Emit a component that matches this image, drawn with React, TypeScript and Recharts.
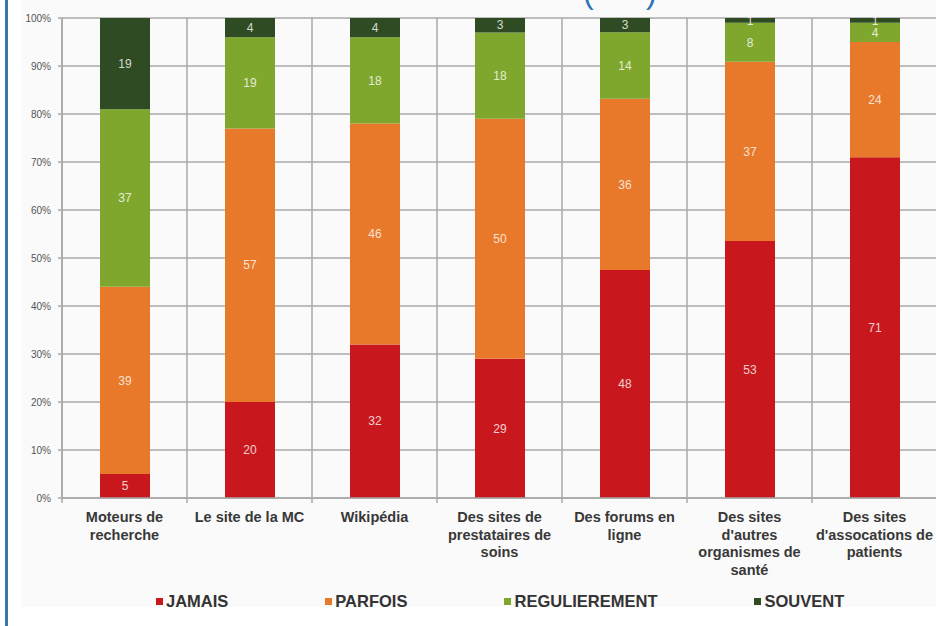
import { BarChart, Bar, XAxis, YAxis, CartesianGrid, LabelList } from "recharts"

// categories (line breaks as in the source picture)
const categories = [
  "Moteurs de\nrecherche",
  "Le site de la MC",
  "Wikipédia",
  "Des sites de\nprestataires de\nsoins",
  "Des forums en\nligne",
  "Des sites\nd'autres\norganismes de\nsanté",
  "Des sites\nd'assocations de\npatients",
]

const jamais = [5, 20, 32, 29, 48, 53, 71]
const parfois = [39, 57, 46, 50, 36, 37, 24]
const regulierement = [37, 19, 18, 18, 14, 8, 4]
const souvent = [19, 4, 4, 3, 3, 1, 1]

const yTicks = [0, 0.1, 0.2, 0.3, 0.4, 0.5, 0.6, 0.7, 0.8, 0.9, 1]

const seriesKeys = ["jamais", "parfois", "regulierement", "souvent"]
const seriesNames = ["JAMAIS", "PARFOIS", "REGULIEREMENT", "SOUVENT"]
const seriesColors = ["#c8181d", "#e8792a", "#7fa72e", "#2e4b23"]

const data = categories.map((name, i) => ({
  name,
  jamais: jamais[i],
  parfois: parfois[i],
  regulierement: regulierement[i],
  souvent: souvent[i],
}))

const CHART_W = 940
const CHART_H = 626
const MARGIN = { top: 18, right: 3, left: 0, bottom: 0 }
const Y_AXIS_W = 62
const BAND = (CHART_W - MARGIN.left - MARGIN.right - Y_AXIS_W) / categories.length
const GRID = "#a9a9a9"
const FONT = "'Liberation Sans', Arial, sans-serif"

function CategoryTick(props: any) {
  const { x, y, payload } = props
  const lines = String(payload.value).split("\n")
  const left = x - BAND / 2
  return (
    <g>
      <line x1={left} x2={left} y1={y} y2={y + 5} stroke={GRID} strokeWidth={1.5} />
      <text
        x={x}
        y={y + 24}
        textAnchor="middle"
        fontFamily={FONT}
        fontWeight="bold"
        fontSize={14.5}
        fill="#383838"
      >
        {lines.map((l, i) => (
          <tspan key={i} x={x} dy={i === 0 ? 0 : 17.7}>
            {l}
          </tspan>
        ))}
      </text>
    </g>
  )
}

function ChartLegend() {
  return (
    <div
      style={{
        position: "absolute",
        left: 156 - 22,
        top: 593,
        display: "flex",
        gap: 97,
        fontFamily: FONT,
        fontWeight: "bold",
        fontSize: 16.5,
        lineHeight: "16.5px",
        color: "#333",
        whiteSpace: "nowrap",
      }}
    >
      {seriesNames.map((n, i) => (
        <div key={n} style={{ display: "flex", alignItems: "flex-start" }}>
          <span
            style={{
              display: "inline-block",
              width: 7,
              height: 7,
              marginTop: 5,
              marginRight: 3,
              background: seriesColors[i],
            }}
          />
          <span>{n}</span>
        </div>
      ))}
    </div>
  )
}

export default function App() {
  return (
    <div
      style={{
        position: "absolute",
        left: 0,
        top: 0,
        width: 936,
        height: 626,
        background: "#fff",
        overflow: "hidden",
      }}
    >
      <div style={{ position: "absolute", left: 5, top: 0, width: 3, height: 626, background: "#3b77a9" }} />
      <div
        style={{
          position: "absolute",
          left: 22,
          top: 0,
          width: 914,
          height: 607,
          overflow: "hidden",
          background: "#fafafa",
        }}
      >
        <div style={{ position: "absolute", left: -22, top: 0 }}>
          <BarChart
            width={CHART_W}
            height={CHART_H}
            data={data}
            margin={MARGIN}
            stackOffset="expand"
            barSize={50}
          >
            <CartesianGrid
              stroke={GRID}
              strokeWidth={1.5}
              verticalCoordinatesGenerator={({ offset }: any) =>
                categories.map((_, i) => offset.left + (i * offset.width) / categories.length)
              }
            />
            <XAxis
              dataKey="name"
              interval={0}
              height={CHART_H - 498 - MARGIN.bottom}
              tickLine={false}
              tickSize={0}
              tickMargin={0}
              axisLine={{ stroke: GRID, strokeWidth: 1.5 }}
              tick={<CategoryTick />}
            />
            <YAxis
              width={Y_AXIS_W}
              domain={[0, 1]}
              ticks={yTicks}
              interval={0}
              tickSize={4}
              tickMargin={7}
              tickLine={{ stroke: GRID, strokeWidth: 1.5 }}
              axisLine={{ stroke: GRID, strokeWidth: 1.5 }}
              tickFormatter={(v: number) => `${Math.round(v * 100)}%`}
              tick={{ fontFamily: FONT, fontSize: 10, fill: "#555" }}
            />
            {seriesKeys.map((k, i) => (
              <Bar
                key={k}
                dataKey={k}
                name={seriesNames[i]}
                stackId="a"
                fill={seriesColors[i]}
                isAnimationActive={false}
              >
                <LabelList
                  dataKey={k}
                  position="center"
                  fill="#ffffff"
                  fillOpacity={0.8}
                  fontSize={12}
                  fontFamily={FONT}
                />
              </Bar>
            ))}
          </BarChart>
        </div>
        <ChartLegend />
      </div>
      <svg
        width={936}
        height={20}
        style={{ position: "absolute", left: 0, top: 0 }}
        fontFamily={FONT}
        fontSize={32}
        fill="#2f75b5"
      >
        <text x={583} y={3}>(</text>
        <text x={646} y={3}>)</text>
      </svg>
    </div>
  )
}
